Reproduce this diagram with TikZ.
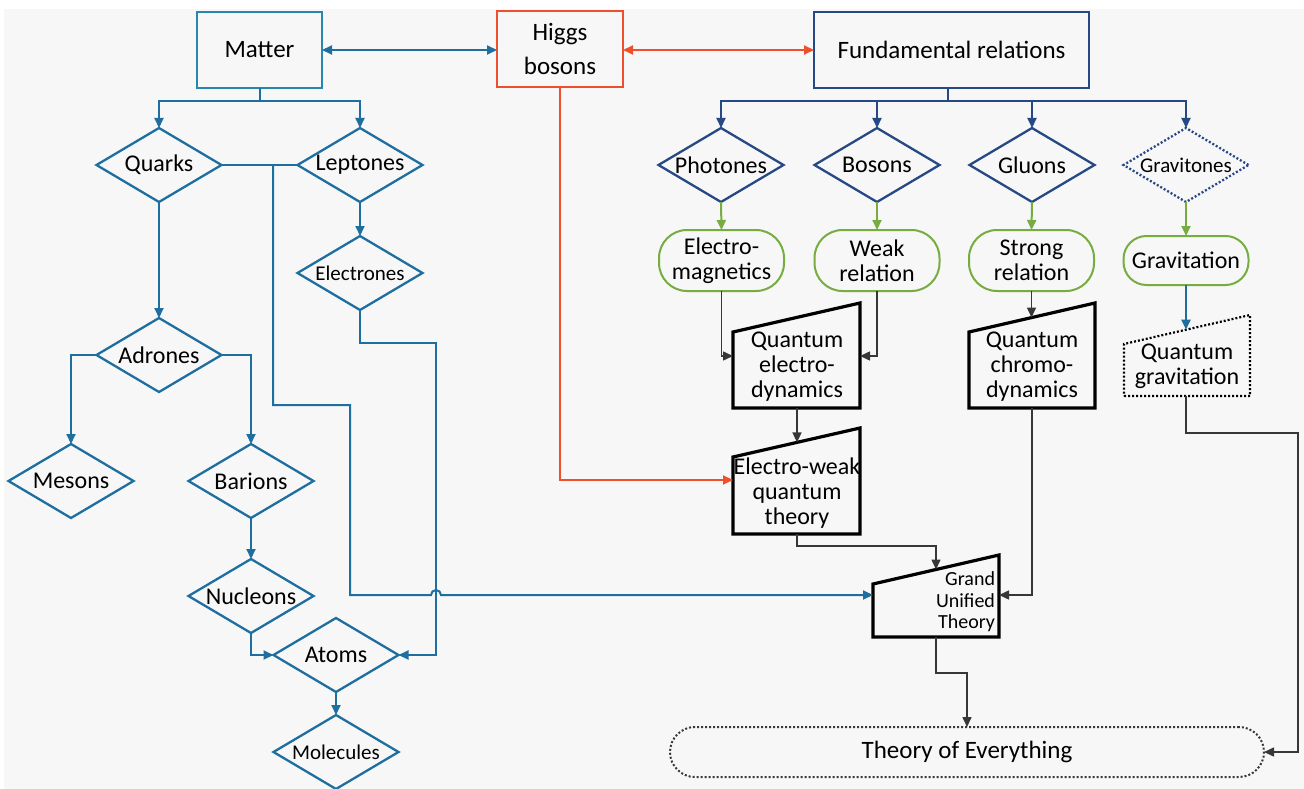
\documentclass[tikz,border=0pt]{standalone}
\usepackage{fontspec}
\setmainfont{Carlito}
\usetikzlibrary{shapes.geometric,arrows.meta}
\definecolor{bgc}{RGB}{247,247,247}
\definecolor{cM}{RGB}{40,135,175}
\definecolor{cL}{RGB}{30,110,160}
\definecolor{cD}{RGB}{38,72,132}
\definecolor{cR}{RGB}{238,80,45}
\definecolor{cG}{RGB}{118,172,64}
\definecolor{cK}{RGB}{55,55,55}
\newcommand\zw[1]{\makebox[0pt]{#1}}
\newcommand\trapz[7]{%
  \coordinate (#1-bl) at (#2,#6);
  \coordinate (#1-br) at (#3,#6);
  \coordinate (#1-tr) at (#3,#5);
  \coordinate (#1-tl) at (#2,#4);
  \draw[#7] (#1-bl) -- (#1-br) -- (#1-tr) -- (#1-tl) -- cycle;}
\begin{document}
\begin{tikzpicture}[x=1pt,y=-1pt,
  every node/.style={outer sep=0pt,inner sep=0pt},
  font=\fontsize{24}{25}\selectfont,
  tipB/.style={-{Triangle[length=10pt,width=9pt]}},
  twoB/.style={{Triangle[length=10pt,width=9pt]}-{Triangle[length=10pt,width=9pt]}},
  bl/.style={draw=cL,line width=2pt,cL},
  dk/.style={draw=cD,line width=2pt,cD},
  gr/.style={draw=cG,line width=2pt,cG},
  gy/.style={draw=cK,line width=1.5pt,cK},
  rd/.style={draw=cR,line width=2pt,cR},
  topbox/.style={rectangle,line width=2.4pt,minimum height=76pt,align=center},
  dia/.style={diamond,draw=cL,line width=2.3pt,minimum width=125pt,minimum height=74pt},
  diaD/.style={dia,draw=cD},
  smallt/.style={font=\fontsize{21}{25}\selectfont},
  grn/.style={rectangle,draw=cG,line width=2pt,rounded corners=28pt,minimum width=125pt,minimum height=61pt,align=center},
  trapline/.style={draw=black,line width=3.2pt},
  trapdot/.style={draw=black,line width=2.2pt,dash pattern=on 2pt off 2pt},
  ttext/.style={align=center}]
\useasboundingbox (0,0) rectangle (1304,789);
\fill[white] (0,0) rectangle (1304,789);
\fill[bgc] (4,9) rectangle (1304,789);

% top boxes
\node[topbox,draw=cM,minimum width=125pt,font=\fontsize{25}{30}\selectfont] (matter) at (259.5,50) {Matter};
\node[topbox,draw=cR,minimum width=126pt,font=\fontsize{25}{34}\selectfont] (higgs) at (560,49) {Higgs\\bosons};
\node[topbox,draw=cD,minimum width=275pt,font=\fontsize{25}{30}\selectfont] (fund) at (951.5,50) {Fundamental relations};

% left diamonds
\node[dia] (quarks) at (159,165) {\zw{Quarks}};
\node[dia] (leptones) at (360,165) {\zw{Leptones}};
\node[dia,smallt] (electrones) at (360,273) {\zw{Electrones}};
\node[dia] (adrones) at (159,355) {\zw{Adrones}};
\node[dia] (mesons) at (71,481) {\zw{Mesons}};
\node[dia] (barions) at (251,481) {\zw{Barions}};
\node[dia] (nucleons) at (251,596) {\zw{Nucleons}};
\node[dia] (atoms) at (336,655) {\zw{Atoms}};
\node[dia,smallt] (molecules) at (336,752) {\zw{Molecules}};

% right diamonds
\node[diaD] (photones) at (721,165) {\zw{Photones}};
\node[diaD] (bosons) at (877,165) {\zw{Bosons}};
\node[diaD] (gluons) at (1032,165) {\zw{Gluons}};
\node[diaD,smallt,dash pattern=on 2pt off 2pt] (gravitones) at (1186,165) {\zw{Gravitones}};

% green rounded boxes
\node[grn] (em) at (721.5,260.5) {Electro-\\magnetics};
\node[grn] (weak) at (877,260.5) {Weak\\relation};
\node[grn] (strong) at (1031.5,260.5) {Strong\\relation};
\node[grn,minimum height=49pt,rounded corners=23pt] (grav) at (1186,260.5) {Gravitation};

% trapezoids
\trapz{qed}{733}{860}{332}{303}{408}{trapline}
\trapz{ew}{733}{860}{457}{428}{534}{trapline}
\trapz{qcd}{969}{1095}{332}{303}{408}{trapline}
\trapz{qg}{1124}{1250}{344}{315}{396}{trapdot}
\trapz{gut}{873}{999}{584}{555}{637}{trapline}
\node[ttext] (qedt) at (797,367) {Quantum\\electro-\\dynamics};
\node[ttext] (ewt) at (797,493) {Electro-weak\\quantum\\theory};
\node[ttext] (qcdt) at (1032,367) {Quantum\\chromo-\\dynamics};
\node[ttext] (qgt) at (1187,366) {Quantum\\gravitation};
\node[align=right,anchor=east,font=\fontsize{20}{21.5}\selectfont] (gutt) at (995,602) {Grand\\Unified\\Theory};

% theory of everything
\node[rectangle,draw=cK,line width=2pt,dash pattern=on 2pt off 2pt,rounded corners=25pt,minimum width=594pt,minimum height=50pt,font=\fontsize{25}{30}\selectfont] (toe) at (967,752) {Theory of Everything};

% named connection points
\coordinate (mb) at (259.5,101);
\coordinate (fb) at (948,101);
\coordinate (qj) at (273,165);
\coordinate (gutW) at (873,595);
\coordinate (gutR) at (999,595);
\coordinate (gutT) at (936,569.5);
\coordinate (gutB) at (936,637);
\coordinate (qedL) at (733,356);
\coordinate (qedR) at (860,356);
\coordinate (qedB) at (797,408);
\coordinate (ewT) at (797,442.4);
\coordinate (ewL) at (733,480);
\coordinate (ewB) at (797,534);
\coordinate (qcdT) at (1031.5,317.5);
\coordinate (qcdB) at (1032,408);
\coordinate (qgT) at (1186,329.7);
\coordinate (qgB) at (1186,396);

% top arrows
\draw[bl,twoB] (matter.east) -- (matter.east -| higgs.west);
\draw[rd,twoB] (higgs.east |- fund.west) -- (fund.west);

% matter tree
\draw[bl] (matter.south) -- (mb);
\draw[bl,tipB] (mb) -| (quarks.north);
\draw[bl,tipB] (mb) -| (leptones.north);
\draw[bl] (quarks.east) -- (leptones.west);
\draw[bl,tipB] (qj) -- (273,405) -- (350,405) -- (350,595) -- (431,595) arc (180:360:5) -- (gutW);
\draw[bl,tipB] (leptones.south) -- (electrones.north);
\draw[bl,tipB] (electrones.south) -- (360,343) -- (436,343) |- (atoms.east);
\draw[bl,tipB] (quarks.south) -- (adrones.north);
\draw[bl,tipB] (adrones.west) -| (mesons.north);
\draw[bl,tipB] (adrones.east) -| (barions.north);
\draw[bl,tipB] (barions.south) -- (nucleons.north);
\draw[bl,tipB] (nucleons.south) |- (atoms.west);
\draw[bl,tipB] (atoms.south) -- (molecules.north);

% fundamental tree
\draw[dk] (fund.south -| fb) -- (fb);
\draw[dk,tipB] (fb) -| (photones.north);
\draw[dk,tipB] (fb) -| (bosons.north);
\draw[dk,tipB] (fb) -| (gluons.north);
\draw[dk,tipB] (fb) -| (gravitones.north);

% green arrows
\draw[gr,tipB] (photones.south) -- (em.north);
\draw[gr,tipB] (bosons.south) -- (weak.north);
\draw[gr,tipB] (gluons.south) -- (strong.north);
\draw[gr,tipB] (gravitones.south) -- (grav.north);

% theory connectors
\draw[gy,tipB] (em.south) |- (qedL);
\draw[gy,tipB] (weak.south) |- (qedR);
\draw[gy,tipB] (strong.south) -- (qcdT);
\draw[gy,tipB] (qedB) -- (ewT);
\draw[rd,tipB] (higgs.south) |- (ewL);
\draw[gy,tipB] (ewB) -- (797,546) -| (gutT);
\draw[gy,tipB] (qcdB) |- (gutR);
\draw[bl,tipB] (grav.south) -- (qgT);
\draw[gy,tipB] (qgB) -- (1186,433) -- (1298,433) |- (toe.east);
\draw[gy,tipB] (gutB) -- (936,673) -| (toe.north);
\end{tikzpicture}
\end{document}
